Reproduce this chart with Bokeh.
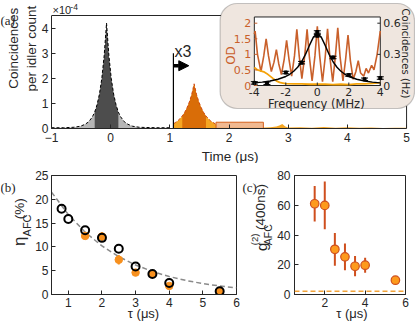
import math
from bokeh.plotting import figure
from bokeh.layouts import column, row
from bokeh.models import Range1d, Label, BoxAnnotation, Arrow, NormalHead, FixedTicker, Span
from bokeh.embed import file_html
from bokeh.resources import INLINE
from bokeh.core.properties import value

# ======================= DATA =======================
# (a) main panel: time (us) vs coincidences per idler count (units of 1e-4)
t_ticks = [-1, 0, 1, 2, 3, 4, 5]
c_ticks = [0, 1, 2, 3, 4]
C_TOP = 4.5
t_input = [-1.0, -0.8, -0.62, -0.51, -0.43, -0.37, -0.31, -0.27, -0.23, -0.19, -0.15, -0.11,
           -0.07, -0.03, 0.01, 0.05, 0.09, 0.13, 0.17, 0.23, 0.29, 0.37, 0.48, 0.6, 0.8, 1.0]
c_input = [0.03, 0.03, 0.05, 0.09, 0.17, 0.27, 0.46, 0.65, 0.95, 1.37, 1.99, 2.90,
           4.20, 2.90, 1.99, 1.37, 0.95, 0.65, 0.46, 0.27, 0.17, 0.09, 0.05, 0.04, 0.03, 0.03]
input_window = [-0.27, 0.13]
t_echo = [1.07, 1.1, 1.13, 1.17, 1.21, 1.25, 1.29, 1.33, 1.37, 1.41, 1.45, 1.49, 1.53,
          1.57, 1.61, 1.65, 1.69, 1.73, 1.77, 1.8]
c_echo = [0.2, 0.25, 0.3, 0.39, 0.50, 0.64, 0.83, 1.06, 1.36, 1.78, 1.36, 1.06, 0.83,
          0.64, 0.50, 0.39, 0.30, 0.24, 0.18, 0.1]
echo_window = [1.21, 1.61]
t_tail = [1.8, 2.0, 2.3, 2.6, 2.7, 2.8, 2.85, 2.9, 2.95, 3.0, 3.2, 3.4, 3.6, 3.8, 4.0, 4.2, 4.4, 4.6, 4.8, 5.0]
c_tail = [0.06, 0.05, 0.05, 0.04, 0.05, 0.08, 0.12, 0.18, 0.08, 0.04, 0.05, 0.03, 0.06, 0.03,
          0.05, 0.03, 0.04, 0.02, 0.03, 0.03]
gate_t = [1.78, 2.58]
gate_h = 0.25
scale_t = 1.06          # start of the x3 zoomed region
scale_h = 3.0
arrow_y = 2.5
arrow_end = 1.32

# inset: frequency (MHz), OD and coincidences (Hz)
f_ticks = [-4, -2, 0, 2, 4]
od_ticks = [0, 0.5, 1, 1.5, 2]
coin_ticks = [0, 0.3, 0.6]
OD_TOP = 2.2
COIN_PER_OD = 0.3
f_od = [-4.0, -3.95, -3.8, -3.58, -3.4, -3.25, -3.1, -2.92, -2.75, -2.6, -2.45, -2.28, -2.1,
        -1.95, -1.8, -1.63, -1.45, -1.3, -1.15, -0.98, -0.8, -0.65, -0.5, -0.33, -0.15, 0.0,
        0.15, 0.33, 0.5, 0.65, 0.8, 0.98, 1.15, 1.3, 1.45, 1.63, 1.8, 1.95, 2.1, 2.28, 2.45,
        2.6, 2.75, 2.95, 3.1, 3.25, 3.45, 3.6, 3.8, 4.0]
od = [1.65, 1.75, 1.0, 0.45, 0.95, 1.5, 0.95, 0.45, 0.75, 1.15, 0.7, 0.35, 0.85,
      1.45, 0.85, 0.3, 0.95, 1.8, 0.95, 0.22, 0.95, 1.8, 0.9, 0.15, 0.95, 1.9,
      0.95, 0.12, 0.9, 1.82, 0.9, 0.12, 0.95, 1.85, 0.9, 0.15, 0.85, 1.62, 0.8, 0.2, 0.45,
      0.8, 0.4, 0.3, 0.55, 0.4, 0.65, 0.5, 1.0, 1.75]
f_pump = [-4.0, -3.8, -3.6, -3.4, -3.2, -3.0, -2.8, -2.6, -2.4, -2.2, -2.0, -1.5, -1.0, -0.5,
          0.0, 0.5, 1.0, 1.5, 2.0, 2.5, 3.0, 3.5, 4.0]
od_pump = [0.58, 0.5, 0.47, 0.44, 0.38, 0.3, 0.22, 0.15, 0.1, 0.08, 0.06, 0.05, 0.05, 0.04,
           0.04, 0.04, 0.03, 0.04, 0.03, 0.05, 0.05, 0.07, 0.09]
f_fit = [-4.0, -3.5, -3.0, -2.5, -2.0, -1.75, -1.5, -1.25, -1.0, -0.75, -0.5, -0.25, 0.0,
         0.25, 0.5, 0.75, 1.0, 1.25, 1.5, 1.75, 2.0, 2.5, 3.0, 3.5, 4.0]
coin_fit = [0.025, 0.032, 0.043, 0.060, 0.087, 0.108, 0.137, 0.176, 0.229, 0.300, 0.386, 0.466,
            0.500, 0.466, 0.386, 0.300, 0.229, 0.176, 0.137, 0.108, 0.087, 0.060, 0.043, 0.032, 0.025]
f_pts = [-4, -3.2, -2, -1, 0, 0, 1, 2, 3, 4]
coin_pts = [0.025, 0.022, 0.125, 0.22, 0.515, 0.48, 0.27, 0.10, 0.06, 0.072]
coin_err = [0.012, 0.012, 0.012, 0.012, 0.012, 0.012, 0.012, 0.012, 0.012, 0.012]

# (b) efficiency vs storage time
tau_ticks = [1, 2, 3, 4, 5, 6]
eta_ticks = [0, 5, 10, 15, 20, 25]
tau_open = [0.8, 1.0, 1.5, 2.0, 2.5, 3.0, 3.5, 4.0, 5.5]
eta_open = [18.0, 15.85, 13.5, 11.9, 9.6, 5.9, 4.3, 2.4, 0.7]
tau_fill = [1.5, 2.0, 2.5, 3.0, 3.5, 4.0, 5.5]
eta_fill = [12.3, 12.2, 7.3, 4.6, 4.3, 1.8, 0.7]
eta_fill_err = [0.7, 0.9, 1.0, 0.6, 0.5, 0.4, 0.3]
tau_fit = [0.5, 1.0, 1.5, 2.0, 2.5, 3.0, 3.5, 4.0, 4.5, 5.0, 5.5, 6.0]
eta_fit = [21.5, 16.8, 13.1, 10.2, 7.95, 6.2, 4.84, 3.77, 2.94, 2.29, 1.79, 1.4]

# (c) g2 vs storage time
g2_xticks = [2, 4, 6]
g2_yticks = [0, 20, 40, 60, 80]
tau_g2 = [1.5, 2.0, 2.5, 3.0, 3.5, 4.0, 5.5]
g2 = [61.0, 59.9, 30.4, 25.3, 19.0, 19.7, 9.6]
g2_err = [12.0, 16.0, 11.0, 9.0, 6.8, 5.0, 2.5]
g2_classical = 2.2

# ======================= STYLE / LAYOUT (page px) =======================
W = 415
HA = 163
HB = 163

FONT = "Liberation Sans"
SERIF = "Liberation Serif"
IFONT = "DejaVu Sans"
INK = "#262626"
DGRAY = "#4d4d4d"
LGRAY = "#b5b5b5"
DORANGE = "#d96d08"
YORANGE = "#f5a623"
ECHO_DASH = "#cf4a16"
GATE_FILL = "#f0b185"
GATE_LINE = "#d4601c"
OD_COLOR = "#c9602b"
BOX_BG = "#efe6df"
B_ORANGE = "#f7901e"
C_FILL = "#fd9a1c"
C_EDGE = "#cf4f1e"
HALF = math.pi / 2
TICK_FS = "12px"
LAB_FS = "13.5px"


def style_axes(p, standoff=4):
    for ax in p.axis:
        ax.major_tick_in = 4
        ax.major_tick_out = 0
        ax.minor_tick_line_color = None
        ax.axis_line_color = INK
        ax.major_tick_line_color = INK
        ax.major_label_text_font = FONT
        ax.major_label_text_font_size = TICK_FS
        ax.major_label_text_color = INK
        ax.major_label_standoff = standoff
    p.xgrid.visible = False
    p.ygrid.visible = False


def add_label(p, x, y, text, size, angle=0.0, align="center", font=FONT, color=INK,
              place=None):
    lab = Label(x=x, y=y, text=text, angle=angle, text_align=align,
                text_baseline="middle", text_font=font, text_font_size=size,
                text_color=color, level="overlay")
    if place is None:
        p.add_layout(lab)
    else:
        p.add_layout(lab, place)


def label_strip(width, height, x0, y0, items):
    """A plain figure that only carries axis titles / panel letters (page px coords).
    Rotated titles are anchored at their starting (lower) end."""
    p = figure(width=width, height=height, x_range=Range1d(0, width), y_range=Range1d(0, height),
               min_border=0, min_border_left=0, min_border_right=0, min_border_top=0,
               min_border_bottom=0, x_axis_type=None, y_axis_type=None,
               output_backend="svg", toolbar_location=None, title=None)
    p.outline_line_color = None
    p.xgrid.visible = False
    p.ygrid.visible = False
    for (x, y, text, size, angle, align, font) in items:
        add_label(p, x - x0, height - (y - y0), text, size, angle=angle, align=align, font=font)
    return p


# ---------------- panel (a) ----------------
STRIP_A = 38
A_L, A_R, A_T, A_B = 48, W, 2, 128          # frame edges, page px
a_ppx = (406 - A_L) / (t_ticks[-1] - t_ticks[0])
a_ppy = (A_B - 15) / C_TOP
xa0 = t_ticks[0]
xa1 = xa0 + (A_R - A_L) / a_ppx
ya1 = (A_B - A_T) / a_ppy
def axd(px): return xa0 + (px - A_L) / a_ppx
def ayd(py): return (A_B - py) / a_ppy

pa = figure(width=W - STRIP_A, height=HA, x_range=Range1d(xa0, xa1), y_range=Range1d(0, ya1),
            min_border_left=A_L - STRIP_A, min_border_right=W - A_R, min_border_top=A_T,
            min_border_bottom=HA - A_B, output_backend="svg", toolbar_location=None, title=None)
pa.outline_line_color = None
style_axes(pa, standoff=4)
pa.yaxis.major_label_standoff = 3
pa.xaxis.ticker = FixedTicker(ticks=t_ticks)
pa.yaxis.ticker = FixedTicker(ticks=c_ticks)
pa.xaxis.bounds = (t_ticks[0], t_ticks[-1])
pa.yaxis.bounds = (0, C_TOP)
pa.line([t_ticks[0], t_ticks[-1], t_ticks[-1]], [C_TOP, C_TOP, 0], line_color=INK, line_width=1)

# input pulse
pa.varea(x=t_input, y1=[0] * len(t_input), y2=c_input, fill_color=LGRAY)
in_t = [t for t in t_input if input_window[0] <= t <= input_window[1]]
in_c = [c for t, c in zip(t_input, c_input) if input_window[0] <= t <= input_window[1]]
pa.varea(x=in_t, y1=[0] * len(in_t), y2=in_c, fill_color=DGRAY)
pa.line(t_input, c_input, line_color="black", line_dash="3 2", line_width=1)

# echo
pa.varea(x=t_echo, y1=[0] * len(t_echo), y2=c_echo, fill_color=YORANGE)
ec_t = [t for t in t_echo if echo_window[0] <= t <= echo_window[1]]
ec_c = [c for t, c in zip(t_echo, c_echo) if echo_window[0] <= t <= echo_window[1]]
pa.varea(x=ec_t, y1=[0] * len(ec_t), y2=ec_c, fill_color=DORANGE)
pa.varea(x=t_tail, y1=[0] * len(t_tail), y2=c_tail, fill_color=YORANGE)
pa.line(t_echo, c_echo, line_color=ECHO_DASH, line_dash="3 2", line_width=1)
pa.quad(left=[gate_t[0]], right=[gate_t[1]], bottom=[0], top=[gate_h],
        fill_color=GATE_FILL, fill_alpha=0.9, line_color=GATE_LINE, line_width=1)

pa.line([scale_t, scale_t], [0, scale_h], line_color="black", line_width=1.2)
pa.add_layout(Arrow(end=NormalHead(size=10, fill_color="black", line_color="black"),
                    x_start=scale_t, y_start=arrow_y, x_end=arrow_end, y_end=arrow_y,
                    line_width=3.5, line_color="black"))
add_label(pa, axd(172), ayd(51), "x3", "16px", align="left")
add_label(pa, axd(49), ayd(9), "\u00d710", "11px", align="left")
add_label(pa, axd(67), ayd(6.5), "-4", "8.5px", align="left")
add_label(pa, axd(228), ayd(156), "Time (\u03bcs)", LAB_FS, place="below")

# ---------------- inset of (a) ----------------
i_left_px, i_right_px = 252.5, 379.5
f_ppx = (i_right_px - i_left_px) / (f_ticks[-1] - f_ticks[0])
fx0 = f_ticks[0] - (i_left_px - A_L) / f_ppx
fx1 = fx0 + (A_R - A_L) / f_ppx
od0_px, od2_px = 85.0, 22.7
od_ppy = (od0_px - od2_px) / 2.0
od_start = -(A_B - od0_px) / od_ppy
od_end = od_start + (A_B - A_T) / od_ppy
pa.extra_x_ranges = {"fx": Range1d(fx0, fx1)}
pa.extra_y_ranges = {"od": Range1d(od_start, od_end),
                     "coin": Range1d(od_start * COIN_PER_OD, od_end * COIN_PER_OD)}

box_kw = dict(left=axd(218), right=axd(414), top=ayd(3), bottom=ayd(108),
              fill_color=BOX_BG, fill_alpha=1.0, line_color="#4a4a4a", line_width=1.2,
              level="annotation")
try:
    box = BoxAnnotation(border_radius=17, **box_kw)
except Exception:
    box = BoxAnnotation(**box_kw)
pa.add_layout(box)

ikw = dict(x_range_name="fx", y_range_name="od", level="overlay")
ckw = dict(x_range_name="fx", y_range_name="coin", level="overlay")
pa.quad(left=[f_ticks[0]], right=[f_ticks[-1]], bottom=[0], top=[OD_TOP],
        fill_color="white", line_color=INK, line_width=1, **ikw)
pa.line(f_od, od, line_color=OD_COLOR, line_width=1.6, **ikw)
pa.line(f_pump, od_pump, line_color="#f5a30a", line_width=1.8, **ikw)
pa.line(f_fit, coin_fit, line_color="black", line_width=1.4, **ckw)
lo = [c - e for c, e in zip(coin_pts, coin_err)]
hi = [c + e for c, e in zip(coin_pts, coin_err)]
pa.segment(x0=f_pts, y0=lo, x1=f_pts, y1=hi, line_color="black", line_width=1, **ckw)
pa.scatter(f_pts, lo, marker="dash", size=7, line_color="black", line_width=1, **ckw)
pa.scatter(f_pts, hi, marker="dash", size=7, line_color="black", line_width=1, **ckw)
pa.scatter(f_pts, coin_pts, marker="square", size=3, color="black", **ckw)

tl_od = 3.0 / od_ppy
tl_f = 3.0 / f_ppx
pa.segment(x0=f_ticks, y0=[0] * len(f_ticks), x1=f_ticks, y1=[tl_od] * len(f_ticks),
           line_color=INK, line_width=1, **ikw)
pa.segment(x0=[f_ticks[0]] * len(od_ticks), y0=od_ticks, x1=[f_ticks[0] + tl_f] * len(od_ticks),
           y1=od_ticks, line_color=OD_COLOR, line_width=1, **ikw)
pa.segment(x0=[f_ticks[-1] - tl_f] * len(coin_ticks), y0=coin_ticks,
           x1=[f_ticks[-1]] * len(coin_ticks), y1=coin_ticks, line_color=INK, line_width=1, **ckw)
pa.text(x=f_ticks, y=[0] * len(f_ticks), text=[str(v) for v in f_ticks], y_offset=2,
        text_align="center", text_baseline="top", text_font=value(IFONT),
        text_font_size=value("11px"), text_color=INK, **ikw)
pa.text(x=[f_ticks[0]] * len(od_ticks), y=od_ticks, text=["0", "0.5", "1", "1.5", "2"],
        x_offset=-3, text_align="right", text_baseline="middle", text_font=value(IFONT),
        text_font_size=value("11px"), text_color=OD_COLOR, **ikw)
pa.text(x=[f_ticks[-1]] * len(coin_ticks), y=coin_ticks, text=["0", "0.3", "0.6"],
        x_offset=3, text_align="left", text_baseline="middle", text_font=value(IFONT),
        text_font_size=value("11px"), text_color=INK, **ckw)
add_label(pa, axd(229), ayd(55), "OD", "12px", angle=HALF, font=IFONT, color=OD_COLOR)
add_label(pa, axd(405), ayd(53), "Coincidences (Hz)", "10px", angle=-HALF, font=IFONT)
add_label(pa, axd(315), ayd(103), "Frequency (MHz)", "11.5px", font=IFONT)

strip_a = label_strip(STRIP_A, HA, 0, 0, [
    (0, 23, "(a)", "13px", 0.0, "left", SERIF),
    (13.3, 111.7, "Coincidences", LAB_FS, HALF, "left", FONT),
    (30.8, 115, "per idler count", LAB_FS, HALF, "left", FONT),
])

# ---------------- panel (b) ----------------
STRIP_B = 32
B_L, B_R = 49, 236              # frame x, page px
B_T, B_B = 12, 131              # frame y, local px
B_END = 240
def bxd(px): return 0.5 + (px - B_L) * (6 - 0.5) / (B_R - B_L)
def byd(py): return (B_B - (py - HA)) * 25.0 / (B_B - B_T)

pb = figure(width=B_END - STRIP_B, height=HB, x_range=Range1d(0.5, 6), y_range=Range1d(0, 25),
            min_border_left=B_L - STRIP_B, min_border_right=B_END - B_R, min_border_top=B_T,
            min_border_bottom=HB - B_B, output_backend="svg", toolbar_location=None, title=None)
pb.outline_line_color = INK
style_axes(pb, standoff=3)
pb.xaxis.ticker = FixedTicker(ticks=tau_ticks)
pb.yaxis.ticker = FixedTicker(ticks=eta_ticks)
pb.line(tau_fit, eta_fit, line_color="#8a8a8a", line_dash="5 3", line_width=1.5)
pb.segment(x0=tau_fill, y0=[e - d for e, d in zip(eta_fill, eta_fill_err)], x1=tau_fill,
           y1=[e + d for e, d in zip(eta_fill, eta_fill_err)], line_color=B_ORANGE, line_width=2)
pb.scatter(tau_fill, eta_fill, marker="circle", size=7.5, fill_color=B_ORANGE, line_color=B_ORANGE)
pb.scatter(tau_open, eta_open, marker="circle", size=8, fill_color=None, line_color="black",
           line_width=2)
add_label(pb, bxd(142), byd(313), "\u03c4 (\u03bcs)", "13px", place="below")

strip_b = label_strip(STRIP_B, HB, 0, HA, [
    (0, 180, "(b)", "13px", 0.0, "left", SERIF),
    (19.3, 259.5, "\u03b7", "17px", HALF, "left", FONT),
    (26.3, 246.5, "AFC", "11px", HALF, "left", FONT),
    (19.3, 223, "(%)", LAB_FS, HALF, "left", FONT),
])

# ---------------- panel (c) ----------------
STRIP_C = 34
C_START = B_END + STRIP_C
C_L, C_R = 293, 405
C_T, C_B = 12, 131
def cxd(px): return 0.5 + (px - C_L) * (6 - 0.5) / (C_R - C_L)
def cyd(py): return (C_B - (py - HA)) * 80.0 / (C_B - C_T)

pc = figure(width=W - C_START, height=HB, x_range=Range1d(0.5, 6), y_range=Range1d(0, 80),
            min_border_left=C_L - C_START, min_border_right=W - C_R, min_border_top=C_T,
            min_border_bottom=HB - C_B, output_backend="svg", toolbar_location=None, title=None)
pc.outline_line_color = INK
style_axes(pc, standoff=4)
pc.xaxis.major_label_standoff = 3
pc.xaxis.ticker = FixedTicker(ticks=g2_xticks)
pc.yaxis.ticker = FixedTicker(ticks=g2_yticks)
pc.add_layout(Span(location=g2_classical, dimension="width", line_color="#f2a33a",
                   line_dash="5 3", line_width=1.5))
pc.segment(x0=tau_g2, y0=[g - e for g, e in zip(g2, g2_err)], x1=tau_g2,
           y1=[g + e for g, e in zip(g2, g2_err)], line_color=C_EDGE, line_width=2)
pc.scatter(tau_g2, g2, marker="circle", size=8.5, fill_color=C_FILL, line_color=C_EDGE,
           line_width=1.2)
add_label(pc, cxd(351), cyd(313), "\u03c4 (\u03bcs)", "13px", place="below")

strip_c = label_strip(STRIP_C, HB, B_END, HA, [
    (242, 180, "(c)", "13px", 0.0, "left", SERIF),
    (261, 266.5, "g", "15px", HALF, "left", FONT),
    (254, 258.5, "(2)", "9.5px", HALF, "left", FONT),
    (267, 258.5, "AFC", "10.5px", HALF, "left", FONT),
    (260, 237.5, "(400ns)", LAB_FS, HALF, "left", FONT),
])

layout = column(row(strip_a, pa), row(strip_b, pb, strip_c, pc))
open("out.html", "w").write(file_html(layout, INLINE))
